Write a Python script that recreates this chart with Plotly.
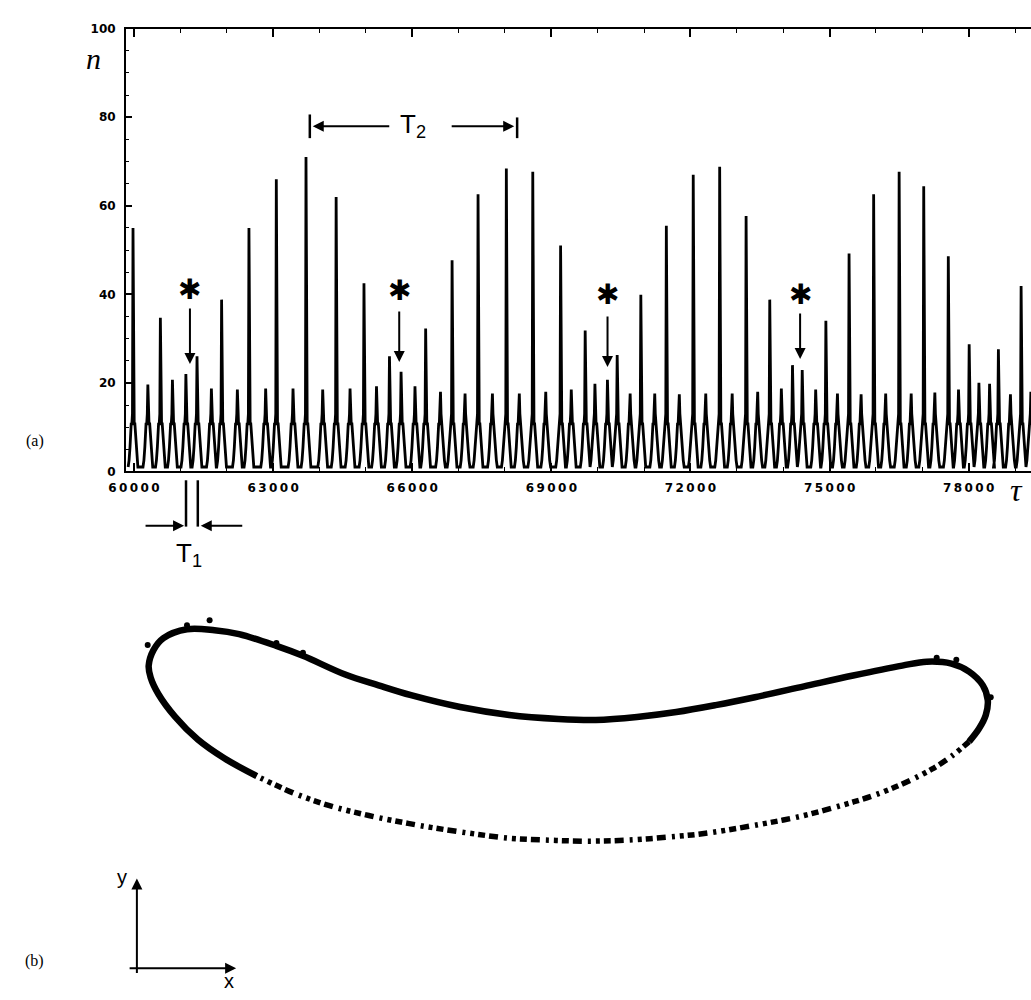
import plotly.graph_objects as go

W, H = 1031, 1000

# ---------------- panel (a): n(tau) time series ----------------
# spike positions (tau) and spike heights (n)
spike_tau = [59980, 60300, 60570, 60830, 61120, 61360, 61670, 61890, 62230, 62480,
             62840, 63070, 63430, 63710, 64070, 64360, 64660, 64960, 65230, 65510,
             65760, 66060, 66290, 66610, 66860, 67140, 67420, 67730, 68030, 68310,
             68600, 68880, 69200, 69430, 69730, 69940, 70210, 70420, 70700, 70930,
             71230, 71480, 71760, 72060, 72330, 72630, 72900, 73200, 73450, 73710,
             73960, 74200, 74410, 74700, 74920, 75170, 75420, 75680, 75950, 76210,
             76500, 76760, 77030, 77270, 77560, 77780, 78010, 78220, 78450, 78640,
             78900, 79130, 79340]
spike_n = [55, 19.6, 34.7, 20.7, 22, 26, 18.7, 38.8, 18.5, 55,
           18.7, 66, 18.7, 71, 18.5, 62, 18.7, 42.5, 19.2, 26,
           22.5, 19.2, 32.3, 18, 47.7, 17.6, 62.6, 17.6, 68.4, 17.6,
           67.7, 18, 51, 18.5, 31.8, 19.8, 20.7, 26.3, 17.6, 39.9,
           17.6, 55.5, 17.4, 67, 17.6, 68.8, 17.6, 57.7, 18, 38.8,
           18.7, 24, 22.9, 18.5, 34, 17.6, 49.2, 17.4, 62.6, 17.6,
           67.7, 17.6, 64.4, 17.8, 48.6, 18.5, 28.7, 20, 19.8, 27.6,
           17.4, 41.9, 18]
# shape of one pulse around its spike (offset in tau, level in n)
pulse_dtau = [-105, -85, -65, -50, -38, -26, -12, 0, 12, 26, 38, 50, 65, 85, 105]
pulse_level = [1.0, 2.5, 5.5, 9.0, 11.0, 10.5, 13.0, None, 13.0, 10.5, 11.0, 9.0, 5.5, 2.5, 1.0]

x_tick_vals = [60000, 63000, 66000, 69000, 72000, 75000, 78000]
x_tick_labels = ["60000", "63000", "66000", "69000", "72000", "75000", "78000"]
y_tick_vals = [0, 20, 40, 60, 80, 100]
y_tick_labels = ["0", "20", "40", "60", "80", "100"]

# ---------------- panel (b): phase-space loop (x, y) ----------------
upper_x = [243, 210, 183, 160, 143, 135, 133, 138, 148, 172, 200, 225, 263, 290, 333,
           367, 400, 450, 500, 550, 588, 630, 670, 710, 750, 800, 850, 900, 925, 950,
           968, 982, 987, 985, 978, 968]
upper_y = [780, 762, 743, 720, 697, 680, 668, 652, 640, 631, 632, 636, 648, 658, 677,
           688, 698, 710, 718, 722, 723, 720, 715, 708, 700, 689, 678, 668, 664, 666,
           674, 688, 703, 718, 732, 745]
lower_x = [968, 950, 930, 900, 870, 851, 800, 755, 700, 672, 620, 580, 540, 500, 460,
           420, 397, 357, 317, 280, 243]
lower_y = [745, 760, 773, 788, 800, 806, 820, 829, 838, 841, 845, 846, 845, 843, 838,
           832, 828, 820, 810, 797, 780]
stray_x = [132, 195, 172, 263, 290, 935, 955, 990]
stray_y = [647, 622, 627, 645, 655, 660, 662, 700]


def fx(p):
    return p / W


def fy(p):
    return 1 - p / H


PX_PER_KTAU = 47.2
TAU0_PX = 118


def tau_at(px):
    return 60000 + (px - TAU0_PX) * 1000.0 / PX_PER_KTAU


trace_tau, trace_n = [], []
for t, n in zip(spike_tau, spike_n):
    for d, lv in zip(pulse_dtau, pulse_level):
        trace_tau.append(t + d)
        trace_n.append(n if lv is None else min(lv, n))

fig = go.Figure()
fig.add_trace(go.Scatter(x=trace_tau, y=trace_n, mode="lines",
                         line=dict(color="black", width=2.8),
                         xaxis="x", yaxis="y", hoverinfo="skip", showlegend=False))

fig.add_trace(go.Scatter(x=upper_x, y=upper_y, mode="lines",
                         line=dict(color="black", width=6.5, shape="spline"),
                         xaxis="x2", yaxis="y2", showlegend=False))
fig.add_trace(go.Scatter(x=lower_x, y=lower_y, mode="lines",
                         line=dict(color="black", width=5.5, shape="spline",
                                   dash="7px,4px,4px,5px,3px,6px,9px,4px"),
                         xaxis="x2", yaxis="y2", showlegend=False))
fig.add_trace(go.Scatter(x=stray_x, y=stray_y, mode="markers",
                         marker=dict(color="black", size=6),
                         xaxis="x2", yaxis="y2", showlegend=False))

tick_font = dict(family="DejaVu Sans", size=12, color="black", weight="bold")
spaced = ["\u2009".join(s) for s in x_tick_labels]

fig.update_layout(
    width=W, height=H,
    margin=dict(l=0, r=0, t=0, b=0),
    paper_bgcolor="white", plot_bgcolor="rgba(0,0,0,0)",
    showlegend=False,
    xaxis=dict(domain=[fx(110), 1], range=[tau_at(110), tau_at(W)],
               tickmode="array", tickvals=x_tick_vals, ticktext=spaced,
               ticks="inside", ticklen=8, tickwidth=1.5, tickcolor="black",
               minor=dict(dtick=1000, tick0=60000, ticks="inside", ticklen=4,
                          tickwidth=1.2, tickcolor="black"),
               showline=True, linewidth=2, linecolor="black", mirror="ticks",
               showgrid=False, zeroline=False, tickfont=tick_font,
               ticklabelstandoff=4, anchor="y"),
    yaxis=dict(domain=[fy(471), fy(22)], range=[0, 100],
               tickmode="array", tickvals=y_tick_vals, ticktext=y_tick_labels,
               ticks="inside", ticklen=6, tickwidth=1.5, tickcolor="black",
               minor=dict(dtick=5, tick0=0, ticks="inside", ticklen=3,
                          tickwidth=1.2, tickcolor="black"),
               showline=True, linewidth=2, linecolor="black", mirror=False,
               showgrid=False, zeroline=False, tickfont=tick_font,
               ticklabelstandoff=6, anchor="x"),
    xaxis2=dict(domain=[0, 1], range=[0, W], visible=False, anchor="y2"),
    yaxis2=dict(domain=[0, fy(580)], range=[H, 580], visible=False, anchor="x2"),
)

ann = []
serif = "Liberation Serif"
sans = "Liberation Sans"
ann.append(dict(x=fx(17), y=fy(440), text="(a)", font=dict(family=serif, size=16, color="black")))
ann.append(dict(x=fx(17), y=fy(968), text="(b)", font=dict(family=serif, size=16, color="black")))
ann.append(dict(x=fx(77), y=fy(52), text="<i>n</i>", font=dict(family=serif, size=30, color="black")))
ann.append(dict(x=fx(1016), y=fy(490), text="<i>τ</i>", font=dict(family=serif, size=32, color="black")))

# asterisks with arrows
for ax_px, star_y, tail_y, tip_y in [(175, 287, 305, 362), (388, 288, 308, 360),
                                     (600, 292, 313, 365), (796, 292, 310, 357)]:
    ann.append(dict(x=fx(ax_px), y=fy(star_y), text="✱",
                    font=dict(family="DejaVu Sans", size=28, color="black")))
    ann.append(dict(x=fx(ax_px), y=fy(tip_y), ax=0, ay=-(tip_y - tail_y), text="",
                    showarrow=True, arrowhead=2, arrowsize=1.1, arrowwidth=2,
                    arrowcolor="black"))

# T2 marker
ann.append(dict(x=fx(402), y=fy(120), text="T<sub>2</sub>",
                font=dict(family=sans, size=26, color="black")))
ann.append(dict(x=fx(300), y=fy(121), ax=78, ay=0, text="", showarrow=True,
                arrowhead=2, arrowsize=1.1, arrowwidth=2, arrowcolor="black"))
ann.append(dict(x=fx(505), y=fy(121), ax=-64, ay=0, text="", showarrow=True,
                arrowhead=2, arrowsize=1.1, arrowwidth=2, arrowcolor="black"))
# T1 marker
ann.append(dict(x=fx(174), y=fy(555), text="T<sub>1</sub>",
                font=dict(family=sans, size=26, color="black")))
ann.append(dict(x=fx(169), y=fy(526), ax=-40, ay=0, text="", showarrow=True,
                arrowhead=2, arrowsize=1.1, arrowwidth=2, arrowcolor="black"))
ann.append(dict(x=fx(186), y=fy(526), ax=43, ay=0, text="", showarrow=True,
                arrowhead=2, arrowsize=1.1, arrowwidth=2, arrowcolor="black"))
# x-y sketch
ann.append(dict(x=fx(121), y=fy(884), ax=0, ay=96, text="", showarrow=True,
                arrowhead=2, arrowsize=1.1, arrowwidth=2, arrowcolor="black"))
ann.append(dict(x=fx(222), y=fy(975), ax=-108, ay=0, text="", showarrow=True,
                arrowhead=2, arrowsize=1.1, arrowwidth=2, arrowcolor="black"))
ann.append(dict(x=fx(106), y=fy(882), text="y", font=dict(family=sans, size=20, color="black")))
ann.append(dict(x=fx(215), y=fy(988), text="x", font=dict(family=sans, size=20, color="black")))

for a in ann:
    a.setdefault("xref", "paper")
    a.setdefault("yref", "paper")
    a.setdefault("showarrow", False)
    a.setdefault("xanchor", "center")
    a.setdefault("yanchor", "middle")
fig.update_layout(annotations=ann)

shapes = []
for x0, y0, y1 in [(297, 109, 133), (508, 112, 133), (171, 480, 527), (183, 480, 527)]:
    shapes.append(dict(type="line", xref="paper", yref="paper",
                       x0=fx(x0), x1=fx(x0), y0=fy(y0), y1=fy(y1),
                       line=dict(color="black", width=2.5)))
fig.update_layout(shapes=shapes)

fig.write_html("out.html", config={"displayModeBar": False},
               post_script="document.body.style.margin='0px';"
                           "document.body.style.overflow='hidden';")
